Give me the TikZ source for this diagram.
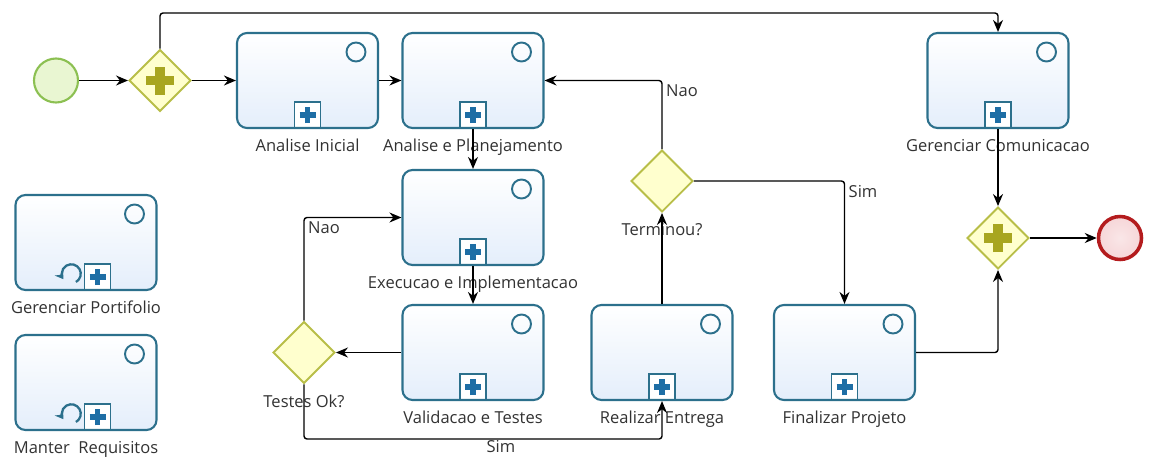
\documentclass[tikz,border=0pt]{standalone}
\usepackage{fontspec}
\setmainfont{Open Sans}
\usetikzlibrary{shapes.geometric, arrows.meta}
\definecolor{taskline}{RGB}{44,112,140}
\definecolor{taskfill}{RGB}{228,238,251}
\definecolor{plusblue}{RGB}{30,110,165}
\definecolor{gateline}{RGB}{184,190,72}
\definecolor{gatefill}{RGB}{255,255,206}
\definecolor{gateplus}{RGB}{168,166,32}
\definecolor{startline}{RGB}{140,192,82}
\definecolor{startfill}{RGB}{233,246,210}
\definecolor{endline}{RGB}{180,28,30}
\definecolor{endfill}{RGB}{246,214,216}
\definecolor{txt}{RGB}{50,50,50}
\newcommand\taskmarks[1]{%
	\draw[sharp corners, taskline, line width=1.1pt] ([xshift=-0.44cm, yshift=-0.38cm]path picture bounding box.north east) circle (0.19cm);
	\draw[sharp corners, taskline, line width=1.1pt, fill=white] ([xshift=#1-0.26cm]path picture bounding box.south) rectangle ++(0.52cm, 0.52cm);
	\draw[sharp corners, plusblue, line width=3.3pt] ([xshift=#1, yshift=0.1cm]path picture bounding box.south) -- ++(0cm, 0.32cm)
		([xshift=#1-0.16cm, yshift=0.26cm]path picture bounding box.south) -- ++(0.32cm, 0cm);
}
\newcommand\loopmark{%
	\draw[sharp corners, taskline, line width=1.3pt, -{Stealth[length=1.6mm, width=2mm]}] ([xshift=-0.2cm, yshift=0.16cm]path picture bounding box.south)
		arc [start angle=-60, end angle=215, radius=0.19cm];
}
\tikzset{
	every label/.style={font=\fontsize{9.4}{11}\selectfont, text=txt},
	every label/.append style={label distance=0.08cm}
}
\tikzset{
	task/.style={rectangle, rounded corners=0.2cm, draw=taskline, line width=1.2pt,
		top color=white, bottom color=taskfill, minimum width=2.82cm, minimum height=1.9cm,
		path picture={\taskmarks{0cm}}},
	looptask/.style={task, path picture={\taskmarks{0.23cm}\loopmark}},
	gate/.style={diamond, draw=gateline, line width=1.1pt, fill=gatefill,
		minimum width=1.24cm, minimum height=1.24cm, inner sep=0pt},
	andgate/.style={gate, path picture={\draw[gateplus, line width=5.5pt] (path picture bounding box.center)
		+(0cm, -0.28cm) -- +(0cm, 0.28cm) +(-0.28cm, 0cm) -- +(0.28cm, 0cm);}},
	startev/.style={circle, draw=startline, line width=1.2pt, fill=startfill, minimum size=0.88cm},
	endev/.style={circle, draw=endline, line width=2pt, inner color=endfill!60, outer color=endfill, minimum size=0.86cm},
	flowlabel/.style={font=\fontsize{9.4}{11}\selectfont, text=txt, inner sep=2pt}
}
\tikzset{
	every edge/.append style={line width=0.8pt, -{Stealth[length=2.4mm, width=2mm]}},
	flow/.style={line width=0.8pt, -{Stealth[length=2.4mm, width=2mm]}, rounded corners=0.06cm}
}

\begin{document}
\begin{tikzpicture}
	\useasboundingbox (0cm, 0cm) rectangle (23.04cm, -9.14cm);
	\node (1) [startev] at (1.12cm, -1.61cm) {};
	\node (2) [andgate] at (3.2cm, -1.61cm) {};
	\node (3) [task, label=below:{Analise Inicial}] at (6.15cm, -1.61cm) {};
	\node (4) [task, label=below:{Analise e Planejamento}] at (9.46cm, -1.61cm) {};
	\node (5) [task, label=below:{Gerenciar Comunicacao}] at (19.96cm, -1.61cm) {};
	\node (6) [task, label=below:{Execucao e Implementacao}] at (9.46cm, -4.35cm) {};
	\node (7) [task, label=below:{Validacao e Testes}] at (9.46cm, -7.05cm) {};
	\node (8) [gate, label=below:{Testes Ok?}] at (6.08cm, -7.05cm) {};
	\node (9) [gate, label=below:{Terminou?}] at (13.24cm, -3.62cm) {};
	\node (10) [task, label=below:{Realizar Entrega}] at (13.24cm, -7.05cm) {};
	\node (11) [task, label=below:{Finalizar Projeto}] at (16.89cm, -7.05cm) {};
	\node (12) [andgate] at (19.96cm, -4.76cm) {};
	\node (13) [endev] at (22.4cm, -4.76cm) {};
	\node (14) [looptask, label=below:{Gerenciar Portifolio}] at (1.72cm, -4.85cm) {};
	\node (15) [looptask, label=below:{Manter\ \ Requisitos}] at (1.72cm, -7.65cm) {};

	\coordinate (16) at (0cm, -0.26cm);
	\coordinate (17) at (0cm, -8.78cm);

	\draw (1) edge (2); \draw (2) edge (3); \draw (3) edge (4);
	\draw (4) edge (6); \draw (6) edge (7); \draw (7) edge (8);
	\draw (10) edge (9); \draw (5) edge (12); \draw (12) edge (13);

	\draw [flow] (2.north) -- (2.north |- 16) -| (5.north);
	\draw [flow] (9.north) |- node [flowlabel, anchor=north west] {Nao} (4.east);
	\draw [flow] (9.east) -| node [flowlabel, anchor=north west] {Sim} (11.north);
	\draw [flow] (8.north) |- node [flowlabel, anchor=north west] {Nao} (6.west);
	\draw [flow] (8.south) -- (8.south |- 17) -- node [flowlabel, below, inner sep=0.5pt, pos=0.55] {Sim} (10.south |- 17) -- (10.south);
	\draw [flow] (11.east) -| (12.south);
\end{tikzpicture}
\end{document}
